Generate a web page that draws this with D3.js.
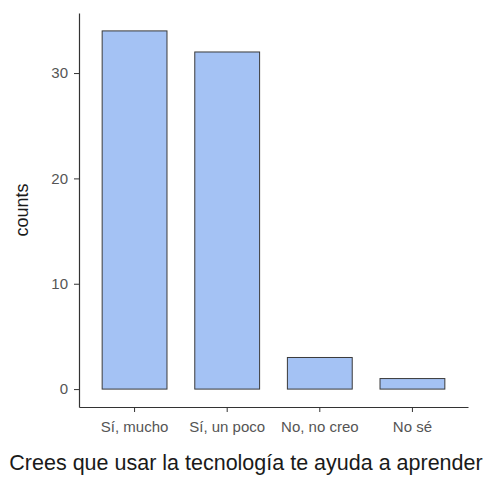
<!DOCTYPE html>
<html>
<head>
<meta charset="utf-8">
<script src="https://cdn.jsdelivr.net/npm/d3@7"></script>
<style>
html,body{margin:0;padding:0;background:#fff;}
svg{display:block;font-family:"Liberation Sans",Arial,sans-serif;}
</style>
</head>
<body>
<svg id="chart" width="492" height="477"></svg>
<script>
const categories = ["Sí, mucho", "Sí, un poco", "No, no creo", "No sé"];
const counts = [34, 32, 3, 1];
const yTicks = [0, 10, 20, 30];
const xTitle = "Crees que usar la tecnología te ayuda a aprender";
const yTitle = "counts";

const svg = d3.select("#chart");
const mLeft = 79, mRight = 468, mTop = 13, mBottom = 407;

const x = d3.scaleBand().domain(categories).range([mLeft, mRight])
  .paddingInner(0.3).paddingOuter(0.25);
const y = d3.scaleLinear().domain([-1.7, 35.7]).range([mBottom, mTop]);

// bars
svg.append("g").selectAll("rect").data(categories).join("rect")
  .attr("x", d => x(d))
  .attr("width", x.bandwidth())
  .attr("y", (d, i) => y(counts[i]))
  .attr("height", (d, i) => y(0) - y(counts[i]))
  .attr("fill", "#a4c2f4")
  .attr("stroke", "#3a3a3a")
  .attr("stroke-width", 1);

// y axis
const yAxis = svg.append("g").attr("transform", `translate(${mLeft},0)`)
  .call(d3.axisLeft(y).tickValues(yTicks).tickSize(5).tickPadding(6).tickSizeOuter(0));
yAxis.select(".domain").attr("stroke", "#333").attr("stroke-width", 1.2);
yAxis.selectAll(".tick line").attr("stroke", "#333");
yAxis.selectAll(".tick text").attr("fill", "#555").attr("font-size", 15)
  .attr("font-family", "Liberation Sans, Arial, sans-serif");

// x axis
const xAxis = svg.append("g").attr("transform", `translate(0,${mBottom})`)
  .call(d3.axisBottom(x).tickSize(5).tickPadding(9).tickSizeOuter(0));
xAxis.select(".domain").attr("stroke", "#333").attr("stroke-width", 1.2);
xAxis.selectAll(".tick line").attr("stroke", "#333");
xAxis.selectAll(".tick text").attr("fill", "#555").attr("font-size", 15)
  .attr("font-family", "Liberation Sans, Arial, sans-serif");

// titles
svg.append("text").attr("x", 246).attr("y", 470).attr("text-anchor", "middle")
  .attr("font-size", 21.5).attr("fill", "#1a1a1a").text(xTitle);
svg.append("text").attr("transform", "translate(28,210) rotate(-90)")
  .attr("text-anchor", "middle").attr("font-size", 18).attr("fill", "#1a1a1a").text(yTitle);
</script>
</body>
</html>
